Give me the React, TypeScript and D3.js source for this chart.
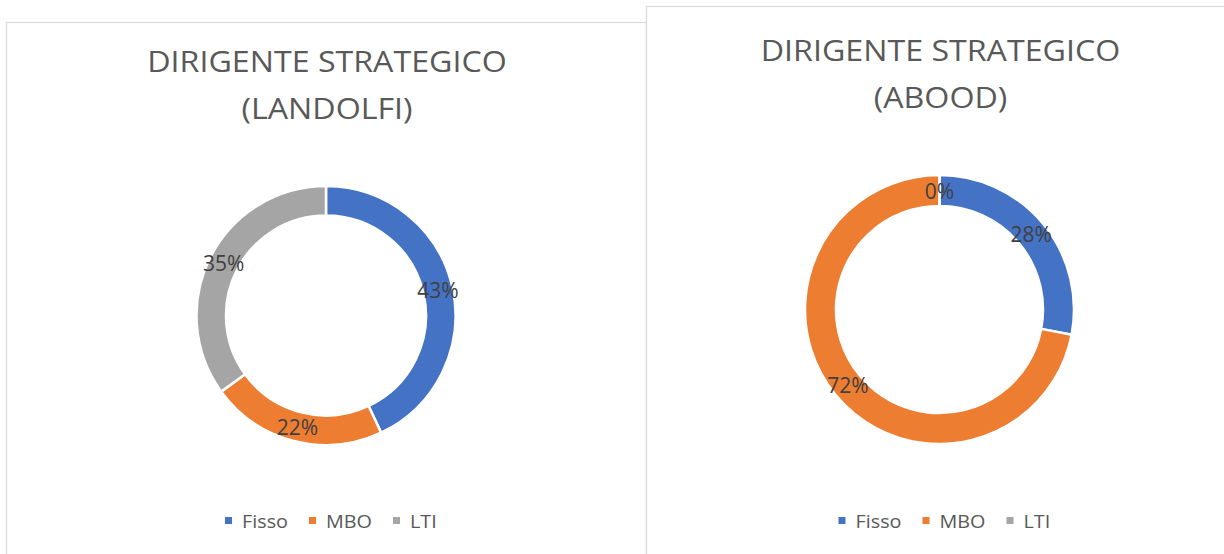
import React from "react";
import * as d3 from "d3";

const categories = ["Fisso", "MBO", "LTI"];
const colors = ["#4472C4", "#ED7D31", "#A5A5A5"];
const titlesLeft = ["DIRIGENTE STRATEGICO", "(LANDOLFI)"];
const titlesRight = ["DIRIGENTE STRATEGICO", "(ABOOD)"];
const valuesLeft = [0.43, 0.22, 0.35];
const valuesRight = [0.28, 0.72, 0.0];

const FONT = "'Open Sans', 'Liberation Sans', sans-serif";

type PanelProps = {
  x: number;
  y: number;
  w: number;
  h: number;
  cx: number;
  cy: number;
  outer: number;
  inner: number;
  titles: string[];
  titleY: number;
  values: number[];
  legendY: number;
};

function Panel(p: PanelProps) {
  const pie = d3
    .pie<number>()
    .sort(null)
    .value((d) => d)
    .startAngle(0)
    .endAngle(2 * Math.PI);
  const arcs = pie(p.values);
  const arc = d3.arc<d3.PieArcDatum<number>>().innerRadius(p.inner).outerRadius(p.outer);
  const fmt = d3.format(".0%");
  const legendStart = p.cx - 101;
  const pitch = [0, 84, 168];
  return (
    <g>
      <rect x={p.x + 0.5} y={p.y + 0.5} width={p.w} height={p.h} fill="#ffffff" stroke="#d9d9d9" strokeWidth={1.2} />
      {p.titles.map((t, i) => (
        <g key={t} transform={`translate(${p.cx + 1},${p.titleY + i * 47}) scale(1.11,1)`}>
          <text textAnchor="middle" fontFamily={FONT} fontSize={29} fill="#595959">
            {t}
          </text>
        </g>
      ))}
      <g transform={`translate(${p.cx},${p.cy})`}>
        {arcs.map((a, i) => (
          <path key={categories[i]} d={arc(a) || ""} fill={colors[i]} stroke="#ffffff" strokeWidth={2.5} />
        ))}
        {arcs.map((a, i) => {
          const [lx, ly] = arc.centroid(a);
          return (
            <text
              key={"l" + categories[i]}
              x={lx}
              y={ly}
              textAnchor="middle"
              dominantBaseline="central"
              fontFamily={FONT}
              fontSize={21}
              fill="#404040"
            >
              {fmt(p.values[i])}
            </text>
          );
        })}
      </g>
      {categories.map((c, i) => {
        const sx = legendStart + pitch[i];
        return (
          <g key={"lg" + c}>
            <rect x={sx} y={p.legendY - 3.5} width={7} height={7} fill={colors[i]} />
            <g transform={`translate(${sx + 17},${p.legendY + 7}) scale(1.1,1)`}>
              <text fontFamily={FONT} fontSize={18} fill="#595959">
                {c}
              </text>
            </g>
          </g>
        );
      })}
    </g>
  );
}

export default function App() {
  return (
    <svg
      width={1224}
      height={554}
      viewBox="0 0 1224 554"
      style={{ position: "absolute", left: 0, top: 0, display: "block", background: "#ffffff" }}
    >
      <rect x={0} y={0} width={1224} height={554} fill="#ffffff" />
      <Panel
        x={6}
        y={22}
        w={640}
        h={600}
        cx={326}
        cy={315.5}
        outer={129.5}
        inner={100}
        titles={titlesLeft}
        titleY={72}
        values={valuesLeft}
        legendY={520.5}
      />
      <Panel
        x={646}
        y={6}
        w={640}
        h={600}
        cx={939.5}
        cy={309.5}
        outer={134.5}
        inner={103.5}
        titles={titlesRight}
        titleY={61}
        values={valuesRight}
        legendY={520.5}
      />
    </svg>
  );
}
